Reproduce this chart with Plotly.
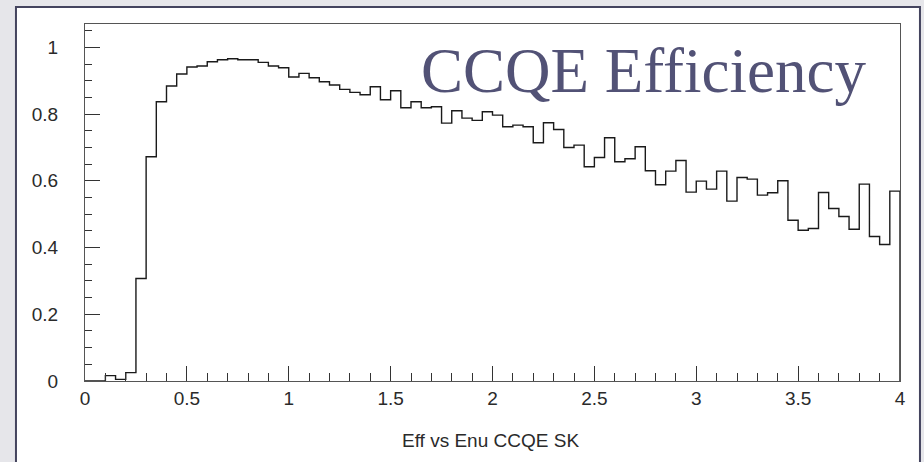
import numpy as np
import plotly.graph_objects as go

# Binning of the neutrino energy axis (GeV)
energy_min = 0.0
energy_max = 4.0
n_bins = 80

# CCQE selection efficiency per energy bin
efficiency = [
    0.000, 0.000, 0.016, 0.005, 0.025, 0.307, 0.672, 0.837, 0.884, 0.920,
    0.941, 0.944, 0.957, 0.963, 0.966, 0.963, 0.963, 0.955, 0.944, 0.939,
    0.911, 0.922, 0.909, 0.897, 0.887, 0.874, 0.865, 0.858, 0.882, 0.843,
    0.870, 0.819, 0.837, 0.819, 0.822, 0.773, 0.810, 0.788, 0.781, 0.807,
    0.797, 0.762, 0.767, 0.762, 0.714, 0.774, 0.754, 0.700, 0.707, 0.642,
    0.670, 0.729, 0.657, 0.666, 0.702, 0.630, 0.588, 0.629, 0.661, 0.566,
    0.599, 0.575, 0.629, 0.539, 0.610, 0.605, 0.557, 0.564, 0.600, 0.482,
    0.452, 0.457, 0.565, 0.517, 0.493, 0.455, 0.590, 0.433, 0.409, 0.569,
]

x_ticks = [0, 0.5, 1, 1.5, 2, 2.5, 3, 3.5, 4]
y_ticks = [0, 0.2, 0.4, 0.6, 0.8, 1]

bin_edges = np.linspace(energy_min, energy_max, n_bins + 1)

# Step outline of the histogram, closed down to zero at the upper edge
step_x = list(bin_edges) + [energy_max]
step_y = list(efficiency) + [efficiency[-1], 0.0]

fig = go.Figure()
fig.add_trace(go.Scatter(
    x=step_x, y=step_y,
    mode="lines",
    line=dict(shape="hv", color="#1a1a1a", width=1.4),
    hoverinfo="skip",
    showlegend=False,
))

tick_font = dict(family="Liberation Sans, Arial, sans-serif", size=19, color="#2a2a2a")

fig.update_layout(
    width=924, height=462,
    margin=dict(l=85, r=24, t=24, b=81),
    paper_bgcolor="#e6e6ea",
    plot_bgcolor="white",
    showlegend=False,
    xaxis=dict(
        range=[energy_min, energy_max],
        tickvals=x_ticks,
        ticks="inside", ticklen=15, tickwidth=1, tickcolor="#333",
        minor=dict(dtick=0.1, ticks="inside", ticklen=8, tickwidth=1, tickcolor="#333"),
        showgrid=False, zeroline=False,
        showline=True, mirror=True, linecolor="#555", linewidth=1.2,
        tickfont=tick_font,
        ticklabelstandoff=0,
    ),
    yaxis=dict(
        range=[0, 1.07],
        tickvals=y_ticks,
        ticks="inside", ticklen=15, tickwidth=1, tickcolor="#333",
        minor=dict(dtick=0.05, ticks="inside", ticklen=7, tickwidth=1, tickcolor="#333"),
        showgrid=False, zeroline=False,
        showline=True, mirror=True, linecolor="#555", linewidth=1.2,
        tickfont=tick_font,
        ticklabelstandoff=22,
    ),
)

# White page panel with a slate border behind the plot
fig.add_shape(
    type="rect", xref="paper", yref="paper",
    x0=-0.0847, x1=1.0245, y0=-0.30, y1=1.0477,
    fillcolor="white", line=dict(color="#44445e", width=2),
    layer="below",
)

# Headline
fig.add_annotation(
    text="CCQE Efficiency",
    xref="paper", yref="paper",
    x=(419 - 85) / 815.0, y=(380.5 - 71) / 356.5,
    xanchor="left", yanchor="middle",
    showarrow=False,
    font=dict(family="Liberation Serif, Times New Roman, serif", size=63, color="#525276"),
)

# Histogram title under the axis
fig.add_annotation(
    text="Eff vs Enu CCQE SK",
    xref="paper", yref="paper",
    x=(490 - 85) / 815.0, y=(380.5 - 440) / 356.5,
    xanchor="center", yanchor="middle",
    showarrow=False,
    font=dict(family="Liberation Sans, Arial, sans-serif", size=19, color="#2a2a2a"),
)

fig.write_html("out.html")
